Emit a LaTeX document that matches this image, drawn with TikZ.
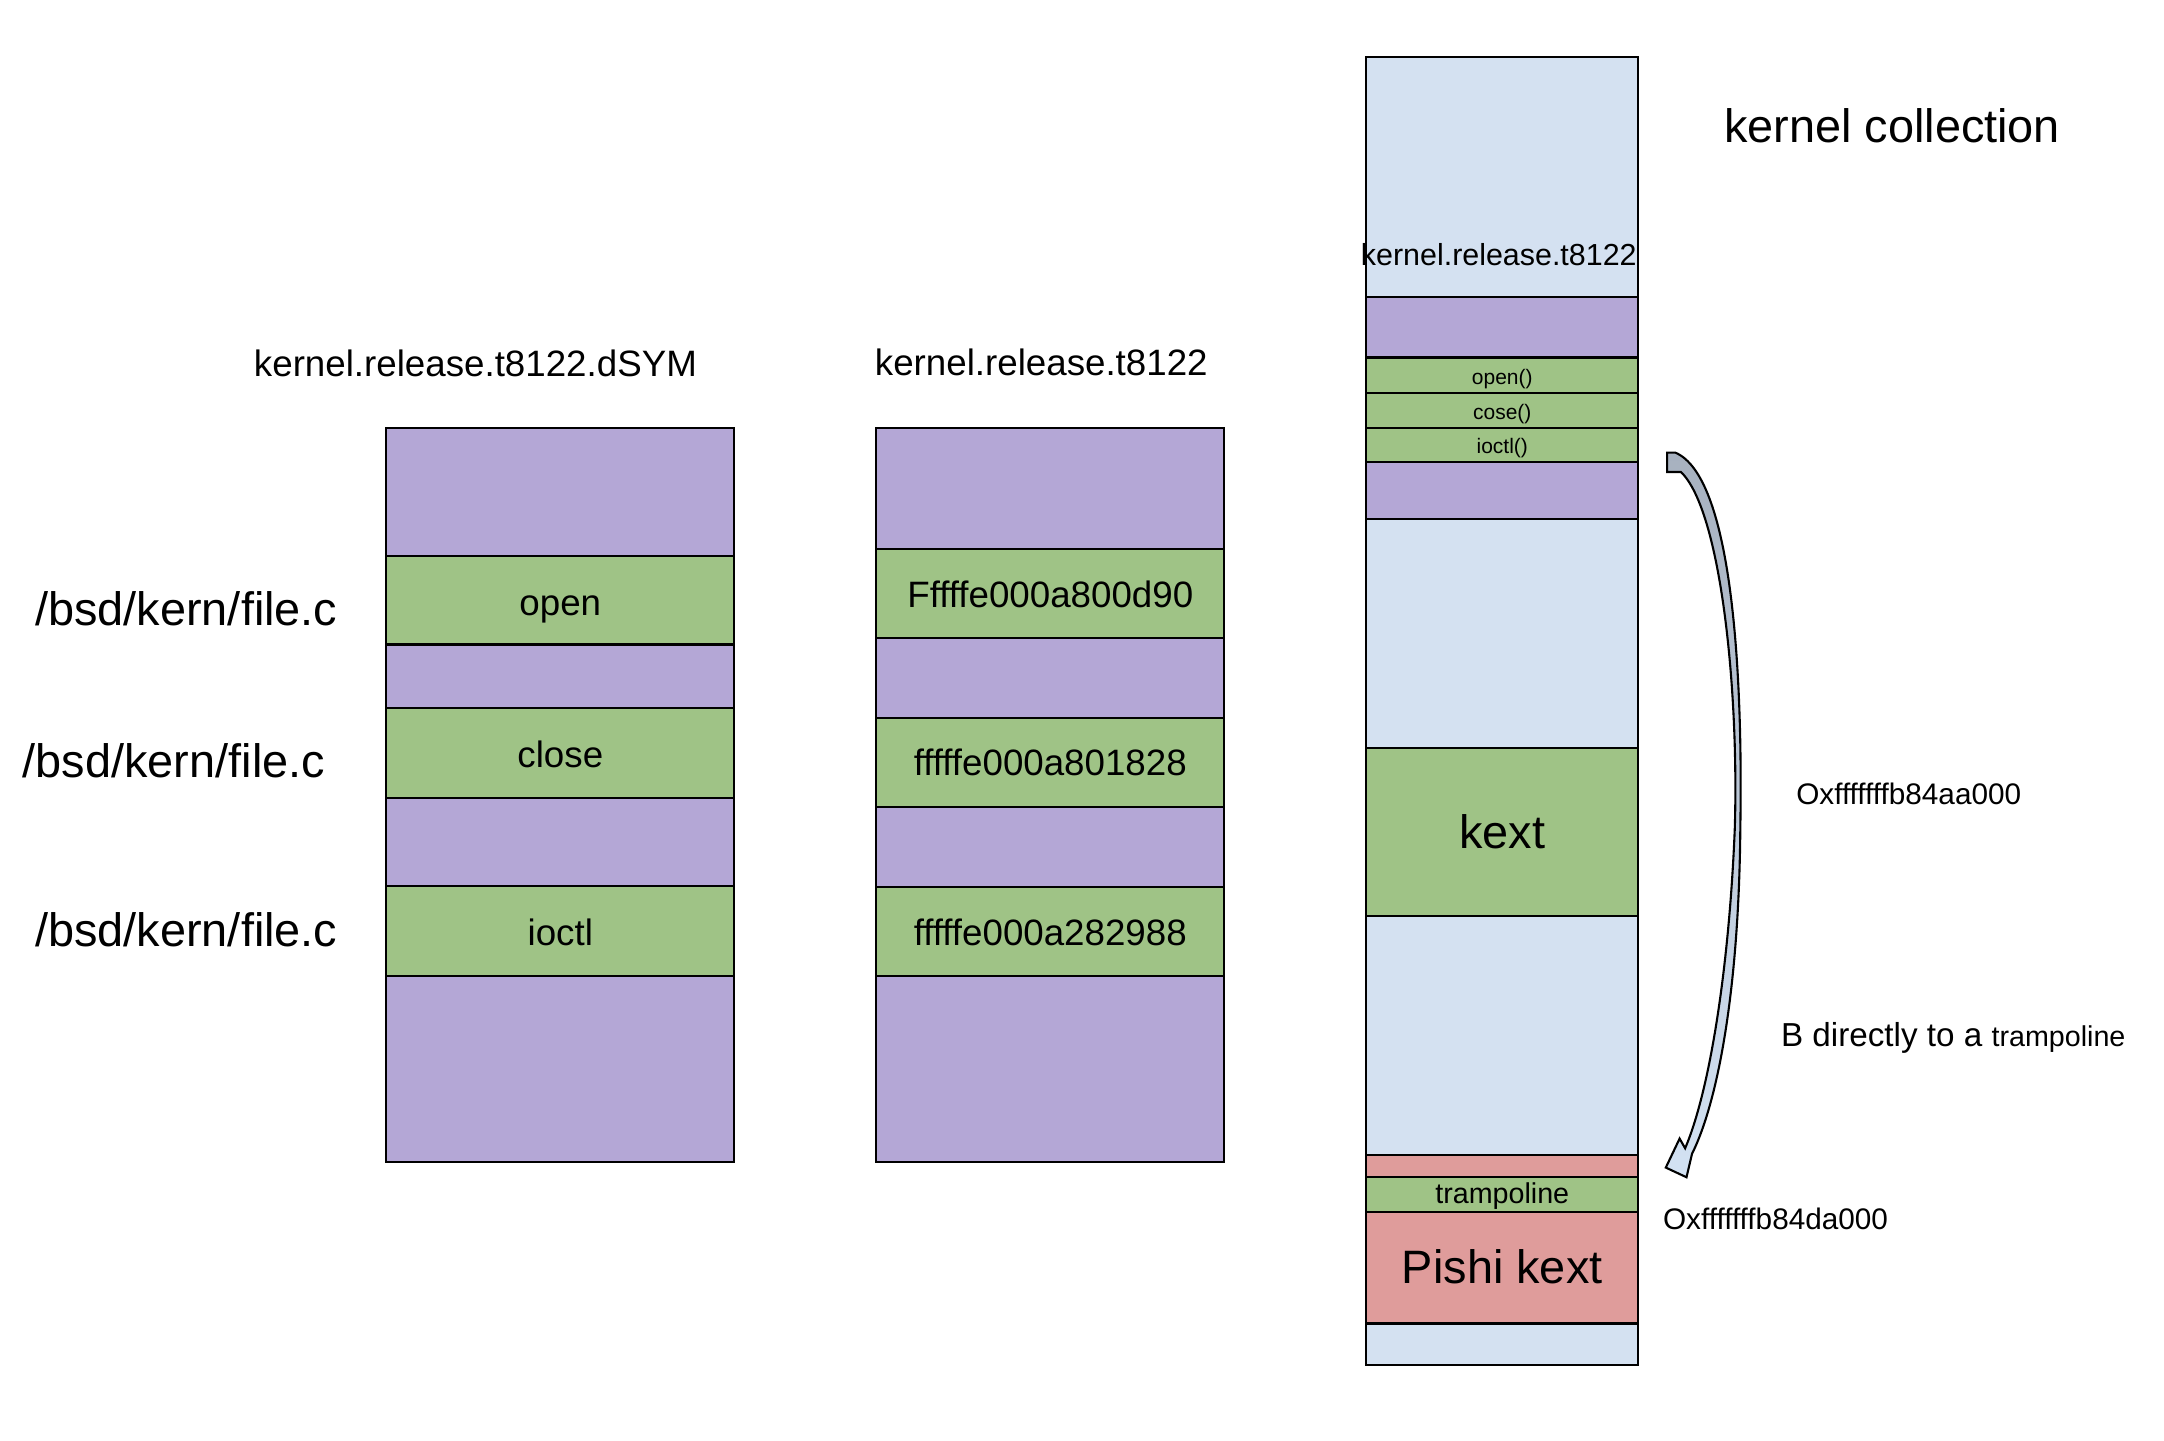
\documentclass[tikz,border=0pt]{standalone}
\usepackage{fontspec}
\setmainfont{Liberation Sans}

\definecolor{purp}{HTML}{B4A7D6}
\definecolor{grn}{HTML}{9FC386}
\definecolor{lblue}{HTML}{D4E1F1}
\definecolor{kextred}{HTML}{DF9C9B}
\definecolor{arrgray}{HTML}{A7B1BF}
\definecolor{arrblue}{HTML}{D3E2F3}

\newcommand{\bigtxt}{\fontsize{13.4pt}{16pt}\selectfont}
\newcommand{\midtxt}{\fontsize{10.5pt}{12.5pt}\selectfont}
\newcommand{\addrtxt}{\fontsize{8.5pt}{10pt}\selectfont}
\newcommand{\smtxt}{\fontsize{8.2pt}{10pt}\selectfont}
\newcommand{\tinytxt}{\fontsize{6pt}{7pt}\selectfont}

\begin{document}
\begin{tikzpicture}[x=0.01387cm, y=-0.01387cm,
  purpseg/.style={draw=black, line width=0.6pt, fill=purp},
  grnseg/.style={draw=black, line width=0.6pt, fill=grn},
  blueseg/.style={draw=black, line width=0.6pt, fill=lblue},
  redseg/.style={draw=black, line width=0.6pt, fill=kextred},
  lbl/.style={inner sep=0pt, text height=.72em, text depth=0pt}]

\useasboundingbox (0,0) rectangle (1568,1043.4);

% dSYM column
\draw [purpseg] (280,310) rectangle (532,403);
\draw [grnseg]  (280,403) rectangle (532,467);
\draw [purpseg] (280,467) rectangle (532,513);
\draw [grnseg]  (280,513) rectangle (532,578);
\draw [purpseg] (280,578) rectangle (532,642);
\draw [grnseg]  (280,642) rectangle (532,707);
\draw [purpseg] (280,707) rectangle (532,842);

\node [lbl, font=\midtxt] (dsymtitle) at (344.5,264) {kernel.release.t8122.dSYM};
\node [lbl, font=\midtxt] (opensym) at (406,437) {open};
\node [lbl, font=\midtxt] (closesym) at (406,547) {close};
\node [lbl, font=\midtxt] (ioctlsym) at (406,676) {ioctl};

\node [lbl, font=\bigtxt] (file1) at (135,444) {/bsd/kern/file.c};
\node [lbl, font=\bigtxt] (file2) at (126,554) {/bsd/kern/file.c};
\node [lbl, font=\bigtxt] (file3) at (135,677) {/bsd/kern/file.c};

% kernel column
\draw [purpseg] (635,310) rectangle (887,398);
\draw [grnseg]  (635,398) rectangle (887,462);
\draw [purpseg] (635,462) rectangle (887,520);
\draw [grnseg]  (635,520) rectangle (887,585);
\draw [purpseg] (635,585) rectangle (887,643);
\draw [grnseg]  (635,643) rectangle (887,707);
\draw [purpseg] (635,707) rectangle (887,842);

\node [lbl, font=\midtxt] (reltitle) at (754.5,263) {kernel.release.t8122};
\node [lbl, font=\midtxt] (addropen) at (761,431) {Fffffe000a800d90};
\node [lbl, font=\midtxt] (addrclose) at (761,553) {fffffe000a801828};
\node [lbl, font=\midtxt] (addrioctl) at (761,676) {fffffe000a282988};

% kernel collection
\draw [blueseg] (990,41) rectangle (1187,989);
\draw [blueseg] (990,41) rectangle (1187,215);
\draw [purpseg] (990,215) rectangle (1187,259);
\draw [grnseg]  (990,259) rectangle (1187,285);
\draw [grnseg]  (990,285) rectangle (1187,310);
\draw [grnseg]  (990,310) rectangle (1187,335);
\draw [purpseg] (990,335) rectangle (1187,376);
\draw [blueseg] (990,376) rectangle (1187,542);
\draw [grnseg]  (990,542) rectangle (1187,664);
\draw [blueseg] (990,664) rectangle (1187,837);
\draw [redseg]  (990,837) rectangle (1187,853);
\draw [grnseg]  (990,853) rectangle (1187,878);
\draw [redseg]  (990,878) rectangle (1187,959);
\draw [blueseg] (990,959) rectangle (1187,989);

\node [lbl, font=\bigtxt] (kctitle) at (1371,94) {kernel collection};
\node [lbl, font=\fontsize{8.7pt}{10pt}\selectfont] (kcrel) at (1086,183) {kernel.release.t8122};
\node [lbl, font=\tinytxt] (kcopen) at (1088.5,269.5) {open()};
\node [lbl, font=\tinytxt] (kccose) at (1088.5,294.5) {cose()};
\node [lbl, font=\tinytxt] (kcioctl) at (1088.5,319.5) {ioctl()};
\node [lbl, font=\bigtxt] (kext) at (1088.5,606) {kext};
\node [lbl, font=\smtxt] (tramp) at (1088.5,863) {trampoline};
\node [lbl, font=\bigtxt] (pishi) at (1088.5,921) {Pishi kext};

% branch arrow
\coordinate (arrtop) at (1208,328);
\coordinate (arrtip) at (1207,846);
\draw [line width=0.6pt, top color=arrgray, bottom color=arrblue]
(arrtop) -- (1214,328) .. controls (1254,345) and (1263,480) .. (1261,600)
.. controls (1260,720) and (1244,800) .. (1226,836)
-- (1222,853) -- (arrtip) -- (1217,825) -- (1221,832)
.. controls (1239,790) and (1253,700) .. (1257,600)
.. controls (1260,500) and (1247,370) .. (1218,342) -- (1208,342) -- cycle;

\node [lbl, font=\addrtxt] (kextaddr) at (1383,574) {Oxfffffffb84aa000};
\node [lbl, font=\addrtxt] (pishiaddr) at (1286.5,882) {Oxfffffffb84da000};
\node [lbl, font=\fontsize{9.5pt}{11pt}\selectfont, anchor=west] (branch) at (1290,749) {B directly to a {\smtxt trampoline}};

\end{tikzpicture}
\end{document}
